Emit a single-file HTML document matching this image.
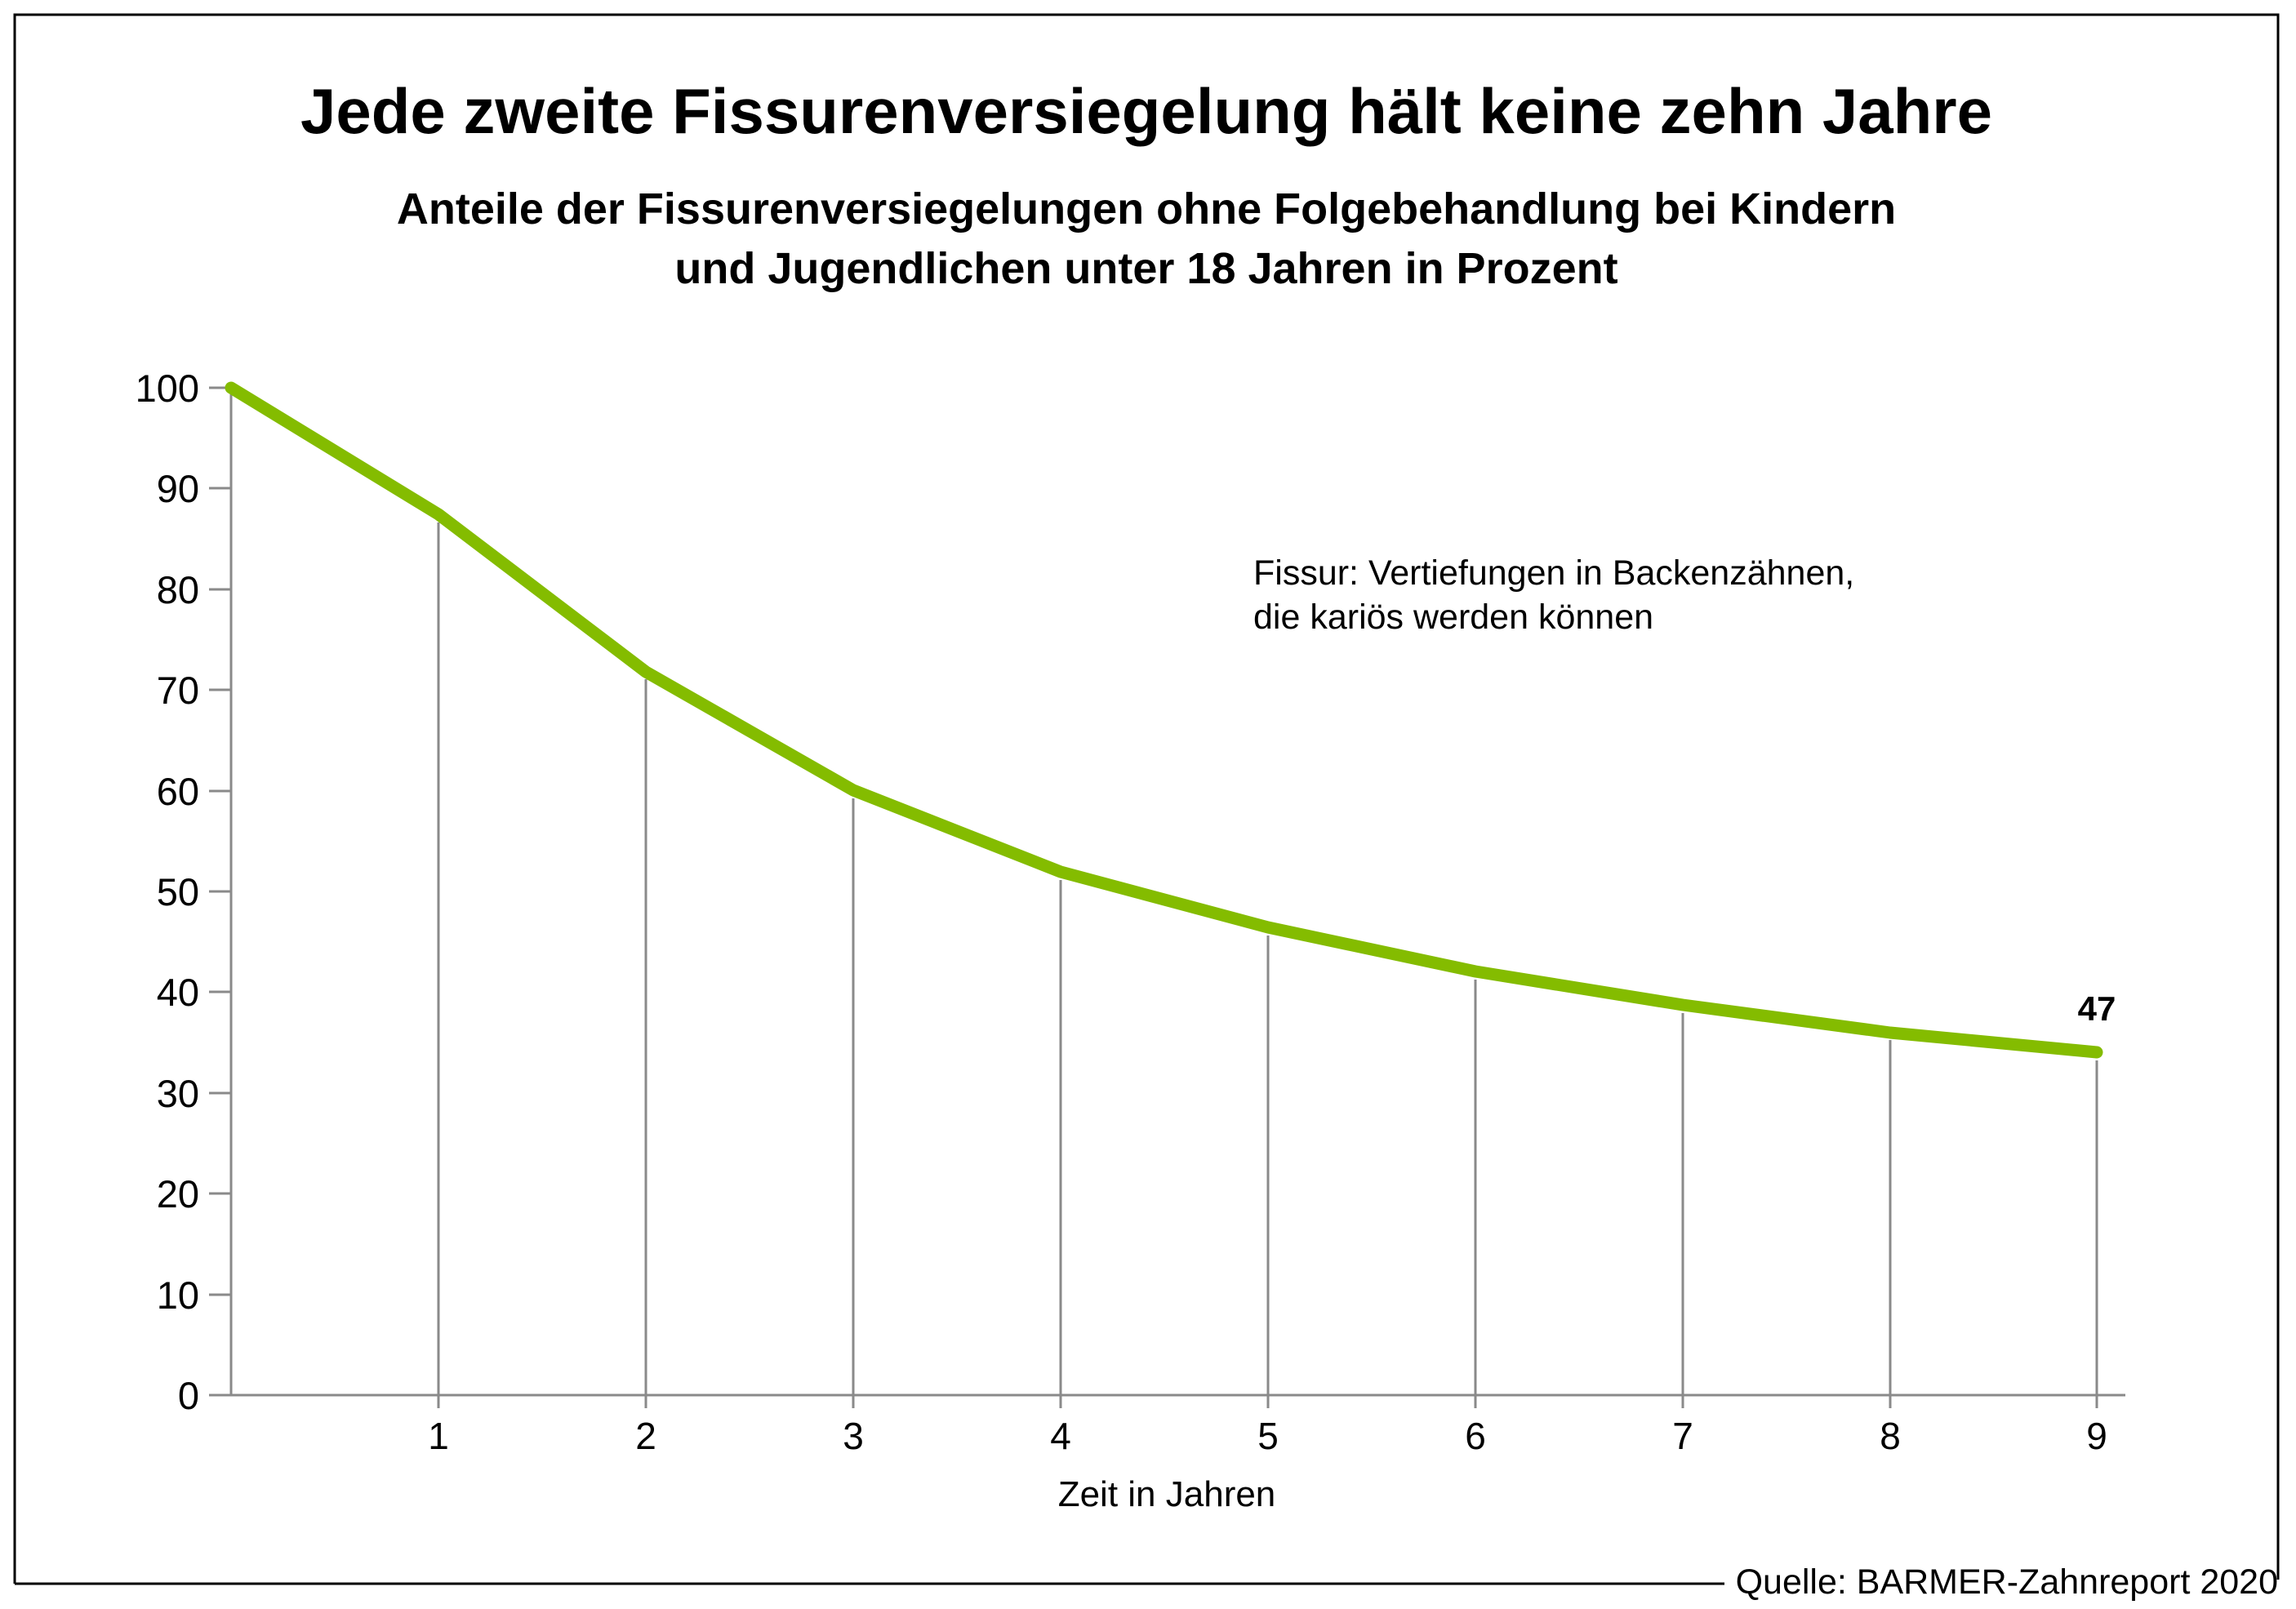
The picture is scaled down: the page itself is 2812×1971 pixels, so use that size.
<!DOCTYPE html>
<html><head><meta charset="utf-8"><style>
html,body{margin:0;padding:0;background:#fff}
svg{display:block}
text{font-family:"Liberation Sans",sans-serif;fill:#000}
</style></head><body>
<svg width="2812" height="1971" viewBox="0 0 2812 1971" xmlns="http://www.w3.org/2000/svg">
<rect width="2812" height="1971" fill="#fff"/>
<path d="M18 1940 V18 H2790 V1935" fill="none" stroke="#000" stroke-width="3"/>
<line x1="18" y1="1940" x2="2112" y2="1940" stroke="#000" stroke-width="3"/>
<text x="2790" y="1952" font-size="43" text-anchor="end">Quelle: BARMER-Zahnreport 2020</text>
<text x="1404" y="163" font-size="78" font-weight="bold" text-anchor="middle">Jede zweite Fissurenversiegelung hält keine zehn Jahre</text>
<text x="1404" y="274" font-size="54" font-weight="bold" text-anchor="middle">Anteile der Fissurenversiegelungen ohne Folgebehandlung bei Kindern</text>
<text x="1404" y="347" font-size="54" font-weight="bold" text-anchor="middle">und Jugendlichen unter 18 Jahren in Prozent</text>
<g stroke="#8a8a8a" stroke-width="3">
<line x1="283" y1="475" x2="283" y2="1709"/>
<line x1="256" y1="1709" x2="2603" y2="1709"/>
<line x1="256" y1="475" x2="283" y2="475"/>
<line x1="256" y1="598" x2="283" y2="598"/>
<line x1="256" y1="722" x2="283" y2="722"/>
<line x1="256" y1="845" x2="283" y2="845"/>
<line x1="256" y1="969" x2="283" y2="969"/>
<line x1="256" y1="1092" x2="283" y2="1092"/>
<line x1="256" y1="1215" x2="283" y2="1215"/>
<line x1="256" y1="1339" x2="283" y2="1339"/>
<line x1="256" y1="1462" x2="283" y2="1462"/>
<line x1="256" y1="1586" x2="283" y2="1586"/>
<line x1="537" y1="640" x2="537" y2="1725"/>
<line x1="791" y1="832" x2="791" y2="1725"/>
<line x1="1045" y1="978" x2="1045" y2="1725"/>
<line x1="1299" y1="1078" x2="1299" y2="1725"/>
<line x1="1553" y1="1146" x2="1553" y2="1725"/>
<line x1="1807" y1="1200" x2="1807" y2="1725"/>
<line x1="2061" y1="1241" x2="2061" y2="1725"/>
<line x1="2315" y1="1274" x2="2315" y2="1725"/>
<line x1="2568" y1="1299" x2="2568" y2="1725"/>
</g>
<g font-size="47" text-anchor="end">
<text x="244" y="492">100</text>
<text x="244" y="615">90</text>
<text x="244" y="739">80</text>
<text x="244" y="862">70</text>
<text x="244" y="986">60</text>
<text x="244" y="1109">50</text>
<text x="244" y="1232">40</text>
<text x="244" y="1356">30</text>
<text x="244" y="1479">20</text>
<text x="244" y="1603">10</text>
<text x="244" y="1726">0</text>
</g>
<g font-size="46" text-anchor="middle">
<text x="537" y="1775">1</text>
<text x="791" y="1775">2</text>
<text x="1045" y="1775">3</text>
<text x="1299" y="1775">4</text>
<text x="1553" y="1775">5</text>
<text x="1807" y="1775">6</text>
<text x="2061" y="1775">7</text>
<text x="2315" y="1775">8</text>
<text x="2568" y="1775">9</text>
</g>
<text x="1429" y="1845" font-size="44" text-anchor="middle">Zeit in Jahren</text>
<text x="1535" y="716" font-size="43">Fissur: Vertiefungen in Backenzähnen,</text>
<text x="1535" y="770" font-size="43">die kariös werden können</text>
<polyline fill="none" stroke="#84bc00" stroke-width="15" stroke-linecap="round" stroke-linejoin="round"
points="283,475 537,630 791,823 1045,968 1299,1068 1553,1136 1807,1190 2061,1231 2315,1265 2568,1289"/>
<text x="2568" y="1250" font-size="42" font-weight="bold" text-anchor="middle">47</text>
</svg>
</body></html>
